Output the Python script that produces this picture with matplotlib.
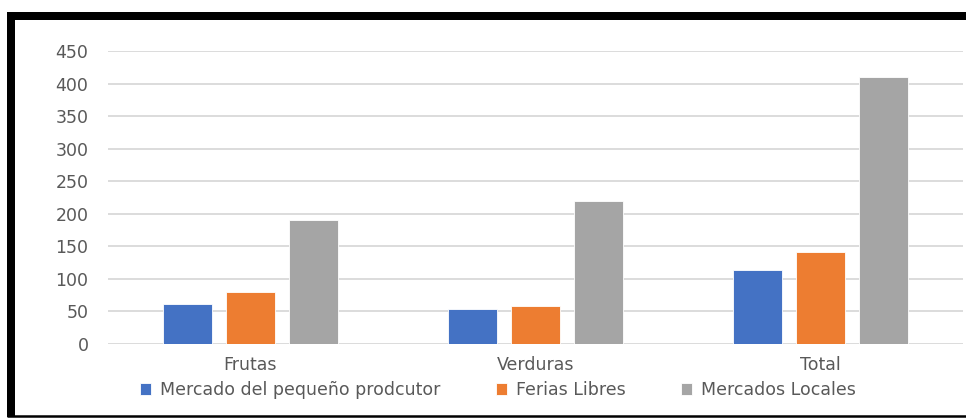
import numpy as np
import matplotlib.pyplot as plt
from matplotlib.lines import Line2D

# ========== Data ==========
categorias = ["Frutas", "Verduras", "Total"]
series = ["Mercado del pequeño prodcutor", "Ferias Libres", "Mercados Locales"]
pequeno_productor = [61, 53, 114]
ferias_libres = [80, 58, 141]
mercados_locales = [190, 220, 410]
yticks = [0, 50, 100, 150, 200, 250, 300, 350, 400, 450]

colores = ["#4472C4", "#ED7D31", "#A5A5A5"]
valores = [pequeno_productor, ferias_libres, mercados_locales]

plt.rcParams['font.family'] = ['DejaVu Sans']

W, H = 966, 418
fig = plt.figure(figsize=(W / 100, H / 100), dpi=100)
ax = fig.add_axes([108 / W, (H - 344) / H, (963 - 108) / W, (344 - 51) / H])

x = np.arange(len(categorias))
ancho = 0.175
paso = 0.221
for i, (vals, col) in enumerate(zip(valores, colores)):
    ax.bar(x + (i - 1) * paso, vals, width=ancho, color=col,
           edgecolor="white", linewidth=0.6, label=series[i], zorder=3)

ax.set_xlim(-0.5, len(categorias) - 0.5)
ax.set_ylim(0, 450)
ax.set_yticks(yticks)
ax.set_xticks(x)
ax.set_xticklabels(categorias)
ax.yaxis.grid(True, color="#d9d9d9", linewidth=1.3, zorder=0)
ax.set_axisbelow(True)
for s in ax.spines.values():
    s.set_visible(False)
ax.tick_params(axis="both", length=0, colors="#595959", labelsize=12.5)
ax.tick_params(axis="y", pad=14)
ax.tick_params(axis="x", pad=9)

fig.legend(loc="center", bbox_to_anchor=(498 / W, 1 - 390 / H), ncol=3,
           frameon=False, fontsize=12.5, labelcolor="#595959",
           handlelength=0.65, handleheight=0.65, handletextpad=0.5,
           columnspacing=3.2)

# marco negro alrededor del grafico
lw_top = 8 * 72 / 100
fig.add_artist(Line2D([7 / W, 1], [1 - 16 / H, 1 - 16 / H], color="black",
                      linewidth=lw_top, solid_capstyle="butt"))
fig.add_artist(Line2D([11 / W, 11 / W], [1 - 12 / H, 1 - 417 / H], color="black",
                      linewidth=lw_top, solid_capstyle="butt"))
fig.add_artist(Line2D([7 / W, 1], [1 - 416 / H, 1 - 416 / H], color="black",
                      linewidth=2.5 * 72 / 100, solid_capstyle="butt"))

fig.savefig("out.png", dpi=100)
